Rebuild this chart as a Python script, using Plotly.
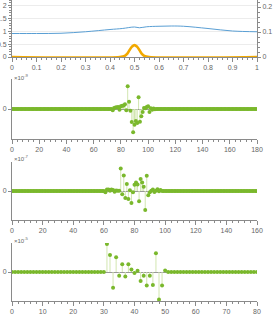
import plotly.graph_objects as go

# ---------------- data ----------------
blue_x = [0, 0.1, 0.2, 0.3, 0.4, 0.45, 0.5, 0.52, 0.55, 0.6, 0.65, 0.7, 0.8, 0.9, 1.0]
blue_y = [0.094, 0.094, 0.095, 0.101, 0.110, 0.114, 0.120, 0.117, 0.121, 0.123, 0.124, 0.123, 0.114, 0.104, 0.101]

orange_x = [0, 0.44, 0.46, 0.47, 0.48, 0.49, 0.5, 0.51, 0.52, 0.53, 0.54, 0.56, 1.0]
orange_y = [0, 0, 0.04, 0.12, 0.27, 0.40, 0.46, 0.40, 0.27, 0.12, 0.04, 0, 0]

p2_n = 180
p2_start = 74
p2_vals = [-0.14, 0.10, 0.15, 0.17, 0.20, -0.07, 0.28, 0.34, 0.35, 0.48, -0.14, 2.34,
           0.76, -0.17, -1.34, -2.41, -1.62, -1.24, -1.45, 1.21, -1.31, -0.76, -0.31,
           0.10, 0.07, 0.20, 0.28, -0.31, 0.07, -0.07, 0.05, -0.03]

p3_n = 160
p3_start = 61
p3_vals = [-0.14, 0.17, 0.17, 0.03, 0.17, 0.10, -0.07, 0.05, 0.03, 0.03, 2.41, -0.34,
           1.66, -0.76, 0.76, -0.86, 0.07, -1.28, -0.14, 0.66, 0.90, 0.69, -1.10, 1.28,
           0.90, 0.45, -2.03, 1.62, -0.45, -0.14, 0.03, 0.17, -0.10, 0.03, 0.20, -0.03,
           0.10, 0.0]

p4_n = 80
p4_start = 31
p4_vals = [3.0, 1.83, -1.69, 1.59, -0.41, 0.83, -0.48, 0.83, 0.28, -0.10, 0.14, -0.97,
           -0.41, -1.45, -0.41, -1.38, 2.0, -2.93, -1.45, 0.17]

exp_labels = ["×10<sup>-9</sup>", "×10<sup>-7</sup>", "×10<sup>-5</sup>"]

# ---------------- styling ----------------
W, H = 273, 316
GREEN = "#7ab82c"
STEM = "#d2e6b0"
AX = "#8a8a8a"
TXT = "#666666"
FONT = dict(family="Liberation Sans, Arial, sans-serif", size=7, color=TXT)

def dom(top_px, bot_px):
    return [1 - bot_px / H, 1 - top_px / H]

fig = go.Figure()

fig.add_trace(go.Scatter(x=orange_x, y=orange_y, mode="lines", line=dict(color="#f2a900", width=2.6, shape="spline"),
                         xaxis="x", yaxis="y", showlegend=False))
fig.add_trace(go.Scatter(x=blue_x, y=blue_y, mode="lines", line=dict(color="#5a9fd4", width=1, shape="spline"),
                         xaxis="x", yaxis="y5", showlegend=False))

def full(n, start, vals):
    ys = [0.0] * (n + 1)
    for i, v in enumerate(vals):
        ys[start + i] = v
    return list(range(n + 1)), ys

panels = [(p2_n, p2_start, p2_vals, "x2", "y2"),
          (p3_n, p3_start, p3_vals, "x3", "y3"),
          (p4_n, p4_start, p4_vals, "x4", "y4")]

for n, start, vals, xa, ya in panels:
    xs, ys = full(n, start, vals)
    sx, sy = [], []
    for x, y in zip(xs, ys):
        if y != 0:
            sx += [x, x, None]
            sy += [0, y, None]
    fig.add_trace(go.Scatter(x=sx, y=sy, mode="lines", line=dict(color=STEM, width=1),
                             xaxis=xa, yaxis=ya, showlegend=False, hoverinfo="skip"))
    fig.add_trace(go.Scatter(x=xs, y=ys, mode="markers", marker=dict(color=GREEN, size=4, line=dict(width=0)),
                             xaxis=xa, yaxis=ya, showlegend=False))

common_x = dict(showline=True, linecolor=AX, linewidth=1, ticks="outside", ticklen=4, tickcolor=AX,
                tickfont=FONT, showgrid=False, zeroline=False, mirror=False, automargin=False)

layout = dict(template="none", width=W, height=H, margin=dict(l=12, r=16, t=0, b=0, pad=0),
              paper_bgcolor="white", plot_bgcolor="white", font=FONT, showlegend=False)

layout["xaxis"] = dict(common_x, domain=[0, 1], range=[0, 1], tickvals=[i / 10 for i in range(11)],
                       ticktext=["0", "0.1", "0.2", "0.3", "0.4", "0.5", "0.6", "0.7", "0.8", "0.9", "1"],
                       minor=dict(ticks="outside", ticklen=2, tickcolor=AX, dtick=0.02), anchor="y")
layout["yaxis"] = dict(domain=dom(0, 57), range=[0, 2.2], tickvals=[0, 0.5, 1, 1.5, 2],
                       ticktext=["0", "0.5", "1", "1.5", "2"], showline=True, linecolor=AX, ticks="outside",
                       ticklen=3, tickcolor=AX, tickfont=FONT, showgrid=True, gridcolor="#ececec",
                       zeroline=False, minor=dict(ticks="outside", ticklen=2, tickcolor=AX, dtick=0.1),
                       anchor="x", automargin=False)
layout["yaxis5"] = dict(overlaying="y", side="right", range=[0, 0.228], tickvals=[0, 0.1, 0.2],
                        ticktext=["0", "0.1", "0.2"], showline=True, linecolor=AX, ticks="outside",
                        ticklen=3, tickcolor=AX, tickfont=FONT, showgrid=False, zeroline=False,
                        minor=dict(ticks="outside", ticklen=2, tickcolor=AX, dtick=0.02), anchor="x",
                        automargin=False)

specs = [("2", 180, 20, 4, (79, 139)),
         ("3", 160, 20, 4, (162, 220)),
         ("4", 80, 10, 2, (243, 301))]
for k, n, dt, mdt, (t, b) in specs:
    layout["xaxis" + k] = dict(common_x, domain=[0, 1], range=[0, n], dtick=dt, tick0=0,
                               minor=dict(ticks="outside", ticklen=2, tickcolor=AX, dtick=mdt),
                               anchor="y" + k)
    layout["yaxis" + k] = dict(domain=dom(t, b), range=[-3.1, 3.1], tickvals=[0], ticktext=["0"],
                               showline=True, linecolor=AX, ticks="outside", ticklen=3, tickcolor=AX,
                               tickfont=FONT, showgrid=False, zeroline=True, zerolinecolor="#999999",
                               zerolinewidth=1, anchor="x" + k, automargin=False)

fig.update_layout(**layout)

ann_y = [77, 158, 240]
for lab, py in zip(exp_labels, ann_y):
    fig.add_annotation(text=lab, xref="paper", yref="paper", x=0, y=1 - py / H, xanchor="left",
                       yanchor="middle", showarrow=False, font=dict(family=FONT["family"], size=6, color=TXT))

fig.write_html("out.html", config={"displayModeBar": False, "staticPlot": True},
               post_script="document.body.style.margin='0';document.body.style.overflow='hidden';")
